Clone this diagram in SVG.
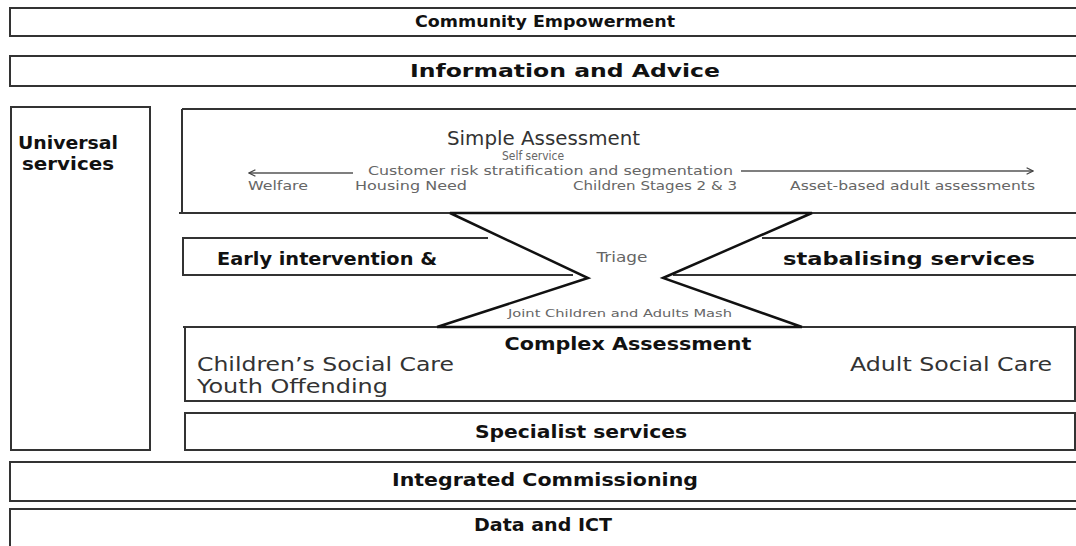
<svg xmlns="http://www.w3.org/2000/svg" width="1076" height="546" viewBox="0 0 1076 546">
<defs>
<style>
.box{fill:#fff;stroke:#333;stroke-width:2}
.ln{fill:none;stroke:#333;stroke-width:2}
.hb{font-family:"DejaVu Sans","Liberation Sans",sans-serif;font-weight:bold;fill:#111}
.tn{font-family:"DejaVu Sans","Liberation Sans",sans-serif;fill:#333}
.tg{font-family:"DejaVu Sans","Liberation Sans",sans-serif;fill:#666}
.arr{fill:none;stroke:#555;stroke-width:1.5}
</style>
<marker id="ah" viewBox="0 0 10 10" refX="9" refY="5" markerWidth="8" markerHeight="8" orient="auto-start-reverse" markerUnits="userSpaceOnUse">
<path d="M1,1 L9,5 L1,9" fill="none" stroke="#444" stroke-width="1.5"/>
</marker>
</defs>
<rect width="1076" height="546" fill="#fff"/>

<g id="community">
<rect class="box" x="10" y="8" width="1080" height="28"/>
<text class="hb" x="545" y="27" font-size="15" text-anchor="middle" textLength="260" lengthAdjust="spacingAndGlyphs">Community Empowerment</text>
</g>

<g id="info">
<rect class="box" x="10" y="56" width="1080" height="30"/>
<text class="hb" x="565" y="77" font-size="17" text-anchor="middle" textLength="310" lengthAdjust="spacingAndGlyphs">Information and Advice</text>
</g>

<g id="universal">
<rect class="box" x="11" y="107" width="139" height="343"/>
<text class="hb" x="18" y="149" font-size="17" textLength="100" lengthAdjust="spacingAndGlyphs">Universal</text>
<text class="hb" x="22" y="170" font-size="17" textLength="92" lengthAdjust="spacingAndGlyphs">services</text>
</g>

<g id="simple">
<path class="ln" d="M182,109 H1080 M182,109 V213 M179,213 H1080"/>
<text class="tn" x="447" y="145" font-size="20" textLength="193" lengthAdjust="spacingAndGlyphs">Simple Assessment</text>
<text class="tg" x="533" y="160" font-size="12" text-anchor="middle" textLength="62" lengthAdjust="spacingAndGlyphs">Self service</text>
<text class="tg" x="368" y="175" font-size="13" textLength="365" lengthAdjust="spacingAndGlyphs">Customer risk stratification and segmentation</text>
<text class="tg" x="248" y="190" font-size="13" textLength="60" lengthAdjust="spacingAndGlyphs">Welfare</text>
<text class="tg" x="355" y="190" font-size="13" textLength="112" lengthAdjust="spacingAndGlyphs">Housing Need</text>
<text class="tg" x="573" y="190" font-size="13" textLength="164" lengthAdjust="spacingAndGlyphs">Children Stages 2 &amp; 3</text>
<text class="tg" x="790" y="190" font-size="13" textLength="245" lengthAdjust="spacingAndGlyphs">Asset-based adult assessments</text>
</g>

<g id="early">
<path class="ln" d="M488,238 H183 V275 H573 M762,238 H1080 M673,275 H1080"/>
<text class="hb" x="217" y="265" font-size="18" textLength="220" lengthAdjust="spacingAndGlyphs">Early intervention &amp;</text>
<text class="hb" x="783" y="265" font-size="18" textLength="252" lengthAdjust="spacingAndGlyphs">stabalising services</text>
</g>

<g id="triage">
<path d="M450,213 H812 L663,278 L802,327 H437 L588,278 Z" fill="#fff" stroke="#111" stroke-width="2.5" stroke-linejoin="miter"/>
<text class="tg" x="622" y="262" font-size="14" text-anchor="middle" textLength="51" lengthAdjust="spacingAndGlyphs">Triage</text>
<text class="tg" x="620" y="317" font-size="11" text-anchor="middle" textLength="224" lengthAdjust="spacingAndGlyphs">Joint Children and Adults Mash</text>
</g>

<g id="complex">
<path class="ln" d="M183,327 H437 M802,327 H1075 V401 H185 V327"/>
<text class="hb" x="628" y="350" font-size="18" text-anchor="middle" textLength="247" lengthAdjust="spacingAndGlyphs">Complex Assessment</text>
<text class="tn" x="197" y="371" font-size="19" textLength="257" lengthAdjust="spacingAndGlyphs">Children’s Social Care</text>
<text class="tn" x="197" y="393" font-size="19" textLength="191" lengthAdjust="spacingAndGlyphs">Youth Offending</text>
<text class="tn" x="1052" y="371" font-size="19" text-anchor="end" textLength="202" lengthAdjust="spacingAndGlyphs">Adult Social Care</text>
</g>

<g id="specialist">
<rect class="box" x="185" y="413" width="890" height="37"/>
<text class="hb" x="581" y="438" font-size="17" text-anchor="middle" textLength="212" lengthAdjust="spacingAndGlyphs">Specialist services</text>
</g>

<g id="commissioning">
<rect class="box" x="10" y="462" width="1080" height="39"/>
<text class="hb" x="545" y="486" font-size="17" text-anchor="middle" textLength="306" lengthAdjust="spacingAndGlyphs">Integrated Commissioning</text>
</g>

<g id="data">
<rect class="box" x="10" y="509" width="1080" height="50"/>
<text class="hb" x="543" y="531" font-size="17" text-anchor="middle" textLength="138" lengthAdjust="spacingAndGlyphs">Data and ICT</text>
</g>

<g id="connectors">
<line class="arr" x1="353" y1="173" x2="249" y2="173" marker-end="url(#ah)"/>
<line class="arr" x1="741" y1="171" x2="1033" y2="171" marker-end="url(#ah)"/>
</g>
</svg>
